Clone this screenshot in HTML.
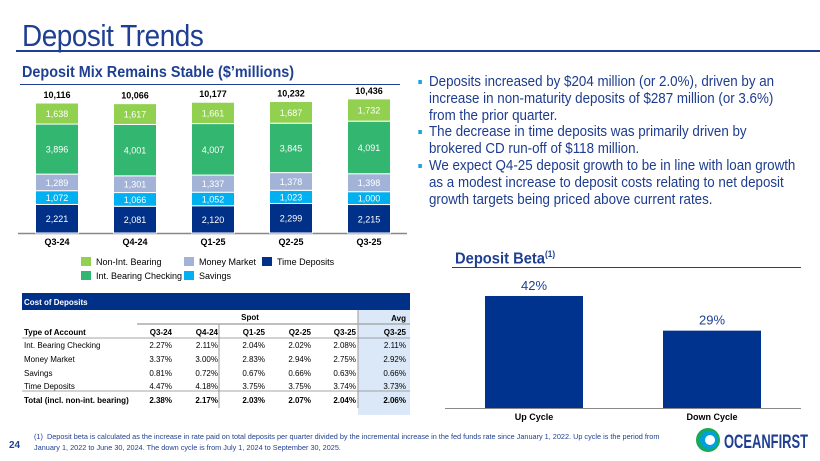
<!DOCTYPE html>
<html><head><meta charset="utf-8"><style>
body{margin:0;width:820px;height:461px;overflow:hidden;background:#fff;font-family:"Liberation Sans",sans-serif;position:relative}
.a{position:absolute;white-space:nowrap}
.bl{position:absolute;left:429px;font-size:15px;line-height:16.8px;color:#1d3c8f;white-space:nowrap;transform:scaleX(0.89);transform-origin:left}
.sq{position:absolute;left:-12px;top:6px;width:4px;height:4px;background:#1aa3e0}
</style></head><body>
<div class="a" style="left:22px;top:18px;font-size:31px;color:#1f3f93;letter-spacing:-0.5px;transform:scaleX(0.9);transform-origin:left">Deposit Trends</div>
<div class="a" style="left:16px;top:50px;width:804px;height:2px;background:#1f3f93"></div>
<div class="a" style="left:22px;top:64px;font-size:16px;font-weight:bold;color:#1f3f93;transform:scaleX(0.9);transform-origin:left">Deposit Mix Remains Stable ($’millions)</div>
<div class="a" style="left:20px;top:84px;width:380px;height:1px;background:#1f3f93"></div>

<div class="bl" style="top:74px"><span class="sq"></span>Deposits increased by $204 million (or 2.0%), driven by an<br>increase in non-maturity deposits of $287 million (or 3.6%)<br>from the prior quarter.</div>
<div class="bl" style="top:124px"><span class="sq"></span>The decrease in time deposits was primarily driven by<br>brokered CD run-off of $118 million.</div>
<div class="bl" style="top:158px"><span class="sq"></span>We expect Q4-25 deposit growth to be in line with loan growth<br>as a modest increase to deposit costs relating to net deposit<br>growth targets being priced above current rates.</div>

<svg class="a" id="mix" style="left:0;top:0" width="410" height="290"></svg>

<div class="a" style="left:455px;top:249px;font-size:16px;font-weight:bold;color:#1f3f93;transform:scaleX(0.92);transform-origin:left">Deposit Beta<sup style="font-size:9px">(1)</sup></div>
<div class="a" style="left:452px;top:267px;width:349px;height:1px;background:#1f3f93"></div>
<svg class="a" id="beta" style="left:420px;top:270px" width="400" height="160"></svg>

<svg class="a" id="tbl" style="left:0;top:290px" width="412" height="125"></svg>

<div class="a" style="left:9px;top:440px;font-size:10px;font-weight:bold;color:#1f3f93">24</div>
<div class="a" style="left:34px;top:431px;font-size:7.3px;line-height:11px;color:#1f3f93">(1)&nbsp; Deposit beta is calculated as the increase in rate paid on total deposits per quarter divided by the incremental increase in the fed funds rate since January 1, 2022. Up cycle is the period from<br>January 1, 2022 to June 30, 2024. The down cycle is from July 1, 2024 to September 30, 2025.</div>
<svg class="a" style="left:694px;top:425px" width="120" height="30">
<circle cx="14" cy="15" r="12" fill="#1aa85a"/><circle cx="15" cy="15" r="9" fill="#00a0df"/><circle cx="16" cy="15" r="5" fill="#fff"/>
<text x="30" y="23" font-family="Liberation Sans" font-weight="bold" font-size="19" fill="#1f3f93" textLength="84" lengthAdjust="spacingAndGlyphs">OCEANFIRST</text></svg>

<script>
const NS="http://www.w3.org/2000/svg";
function mk(p,t,a,txt){const e=document.createElementNS(NS,t);for(const k in a)e.setAttribute(k,a[k]);if(txt!==undefined)e.textContent=txt;p.appendChild(e);return e;}
// Deposit mix data
const quarters=["Q3-24","Q4-24","Q1-25","Q2-25","Q3-25"];
const timeDeposits=[2221,2081,2120,2299,2215];
const savings=[1072,1066,1052,1023,1000];
const moneyMarket=[1289,1301,1337,1378,1398];
const intChecking=[3896,4001,4007,3845,4091];
const nonInt=[1638,1617,1661,1687,1732];
const totals=[10116,10066,10177,10232,10436];
const seriesNames=["Time Deposits","Savings","Money Market","Int. Bearing Checking","Non-Int. Bearing"];
const seriesColors=["#003087","#00b0f0","#a3b3d8","#33b670","#92d050"];
const series=[timeDeposits,savings,moneyMarket,intChecking,nonInt];
const mix=document.getElementById('mix');
const base=233,scale=0.01285,x0=57,step=78,bw=43;
const X=i=>x0+i*step, Y=v=>base-v*scale;
mk(mix,'line',{x1:18,x2:407,y1:base+0.5,y2:base+0.5,stroke:'#888','stroke-width':1.5});
quarters.forEach((q,i)=>{
  let cum=0;
  series.forEach((s,k)=>{
    const y0=Y(cum),y1=Y(cum+s[i]);
    const r=mk(mix,'rect',{x:X(i)-bw/2,y:y1,width:bw,height:y0-y1,fill:seriesColors[k],stroke:'#fff','stroke-width':1});
    
    
    mk(mix,'text',{x:X(i),y:(y0+y1)/2+3.5,'text-anchor':'middle','font-size':9,fill:'#fff'},s[i].toLocaleString('en-US'));
    cum+=s[i];
  });
  mk(mix,'text',{x:X(i),y:Y(cum)-5,'text-anchor':'middle','font-size':9,'font-weight':'bold',fill:'#000'},totals[i].toLocaleString('en-US'));
  mk(mix,'text',{x:X(i),y:245,'text-anchor':'middle','font-size':9,'font-weight':'bold',fill:'#000'},q);
});
const leg=[[81,257,4],[184,257,2],[262,257,0],[81,271,3],[184,271,1]];
leg.forEach(([lx,ly,k])=>{
  const g=mk(mix,'g',{});
  
  
  mk(g,'rect',{x:lx,y:ly,width:10,height:9,fill:seriesColors[k]});
  mk(g,'text',{x:lx+15,y:ly+8,'font-size':9,fill:'#000'},seriesNames[k]);
});
// Beta chart
const betaCats=["Up Cycle","Down Cycle"];
const betaVals=[42,29];
const beta=document.getElementById('beta');
const bb=138,bs=2.667,bcx=[114,292],bbw=98;
betaCats.forEach((c,i)=>{
  const h=betaVals[i]*bs;
  const r=mk(beta,'rect',{x:bcx[i]-bbw/2,y:bb-h,width:bbw,height:h,fill:'#00338d'});
  
  
  mk(beta,'text',{x:bcx[i],y:bb-h-6,'text-anchor':'middle','font-size':13,fill:'#1f3f93'},betaVals[i]+'%');
  mk(beta,'text',{x:bcx[i],y:bb+12,'text-anchor':'middle','font-size':9,'font-weight':'bold',fill:'#000'},c);
});
mk(beta,'line',{x1:25,x2:381,y1:bb+0.5,y2:bb+0.5,stroke:'#888','stroke-width':1});
// Table
const cols=["Q3-24","Q4-24","Q1-25","Q2-25","Q3-25","Q3-25"];
const rowNames=["Int. Bearing Checking","Money Market","Savings","Time Deposits","Total (incl. non-int. bearing)"];
const rowVals=[["2.27%","2.11%","2.04%","2.02%","2.08%","2.11%"],["3.37%","3.00%","2.83%","2.94%","2.75%","2.92%"],["0.81%","0.72%","0.67%","0.66%","0.63%","0.66%"],["4.47%","4.18%","3.75%","3.75%","3.74%","3.73%"],["2.38%","2.17%","2.03%","2.07%","2.04%","2.06%"]];
const t=document.getElementById('tbl');
const colX=[172,218,265,311,356,406];
mk(t,'rect',{x:358,y:20,width:52,height:105,fill:'#dbe8f7'});
mk(t,'rect',{x:22,y:3,width:388,height:17,fill:'#003087'});
mk(t,'text',{x:24,y:15,'font-size':8,'font-weight':'bold',fill:'#fff'},'Cost of Deposits');
mk(t,'text',{x:250,y:30,'text-anchor':'middle','font-size':8,'font-weight':'bold',fill:'#000'},'Spot');
mk(t,'text',{x:406,y:31,'text-anchor':'end','font-size':8,'font-weight':'bold',fill:'#000'},'Avg');
mk(t,'line',{x1:137,x2:410,y1:34,y2:34,stroke:'#aaa','stroke-width':1.5});
mk(t,'line',{x1:219,x2:219,y1:34,y2:118,stroke:'#aaa','stroke-width':1.2});
mk(t,'line',{x1:358,x2:358,y1:20,y2:118,stroke:'#aaa','stroke-width':1.2});
mk(t,'text',{x:24,y:45,'font-size':8,'font-weight':'bold',fill:'#000'},'Type of Account');
cols.forEach((c,j)=>mk(t,'text',{x:colX[j],y:45,'text-anchor':'end','font-size':8,'font-weight':'bold',fill:'#000'},c));
mk(t,'line',{x1:22,x2:410,y1:48,y2:48,stroke:'#888','stroke-width':0.8});
mk(t,'line',{x1:22,x2:410,y1:101,y2:101,stroke:'#888','stroke-width':0.8});
const rowY=[58,72,86,100,113];
rowNames.forEach((n,i)=>{
  const bold=i===4?'bold':'normal';
  const y=rowY[i]+(i===3?-1:0);
  mk(t,'text',{x:24,y:y,'font-size':8,'font-weight':bold,fill:'#000'},n);
  rowVals[i].forEach((v,j)=>mk(t,'text',{x:colX[j],y:y,'text-anchor':'end','font-size':8,'font-weight':bold,fill:'#000'},v));
});
</script>
</body></html>
